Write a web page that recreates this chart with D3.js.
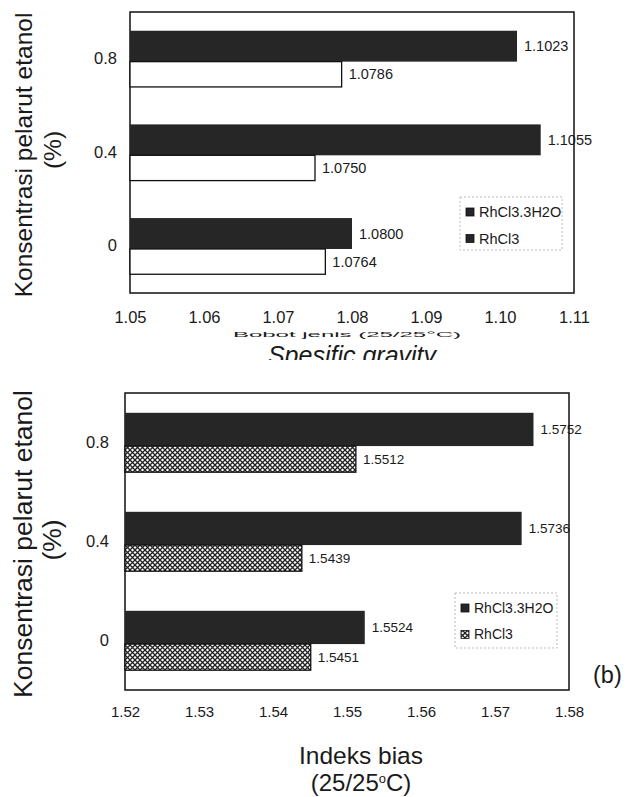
<!DOCTYPE html>
<html lang="id">
<head>
	<meta charset="UTF-8">
	<title>Bobot jenis dan indeks bias</title>
	<script src="https://d3js.org/d3.v7.min.js"></script>
	<style>
		body { margin: 0; background: #fff; }
		text { font-family: "Liberation Sans", Arial, sans-serif; fill: #1a1a1a; }
	</style>
</head>
<body>
<script>
	// ---- data ----
	var categories = ['0.8', '0.4', '0'];
	var seriesNames = ['RhCl3.3H2O', 'RhCl3'];

	// (a) bobot jenis / spesific gravity
	var sgHydrate = [1.1023, 1.1055, 1.0800];
	var sgAnhydrous = [1.0786, 1.0750, 1.0764];
	var sgTicks = [1.05, 1.06, 1.07, 1.08, 1.09, 1.10, 1.11];

	// (b) indeks bias
	var riHydrate = [1.5752, 1.5736, 1.5524];
	var riAnhydrous = [1.5512, 1.5439, 1.5451];
	var riTicks = [1.52, 1.53, 1.54, 1.55, 1.56, 1.57, 1.58];

	var W = 628, H = 797;
	var dark = '#262626';

	var svg = d3.select('body').append('svg')
		.attr('width', W)
		.attr('height', H);

	var defs = svg.append('defs');

	// crosshatch fill for RhCl3 in panel (b)
	var pat = defs.append('pattern')
		.attr('id', 'hatch')
		.attr('patternUnits', 'userSpaceOnUse')
		.attr('width', 5)
		.attr('height', 5);
	pat.append('rect').attr('width', 5).attr('height', 5).attr('fill', '#fff');
	pat.append('path')
		.attr('d', 'M0,0L5,5M5,0L0,5')
		.attr('stroke', '#222')
		.attr('stroke-width', 1.3);

	// the scan cuts the bottom of the (a) axis title
	defs.append('clipPath').attr('id', 'cut2')
		.append('rect').attr('x', 0).attr('y', 342).attr('width', W).attr('height', 18);

	function panel(opt) {
		var x = d3.scaleLinear()
			.domain([opt.ticks[0], opt.ticks[opt.ticks.length - 1]])
			.range([opt.left, opt.right]);
		var y = d3.scaleBand()
			.domain(categories)
			.range([opt.top, opt.bottom])
			.paddingInner(0.4)
			.paddingOuter(0.2);
		var half = y.bandwidth() * opt.split;

		var g = svg.append('g');

		// frame
		g.append('rect')
			.attr('x', opt.left)
			.attr('y', opt.top)
			.attr('width', opt.right - opt.left)
			.attr('height', opt.bottom - opt.top)
			.attr('fill', 'none')
			.attr('stroke', '#111')
			.attr('stroke-width', 1.5);

		var rows = categories.map(function (c, i) {
			return {cat: c, a: opt.hydrate[i], b: opt.anhydrous[i]};
		});

		// dark bars (hydrate)
		g.selectAll('.barA').data(rows).enter().append('rect')
			.attr('class', 'barA')
			.attr('x', x(opt.ticks[0]))
			.attr('y', function (d) { return y(d.cat); })
			.attr('width', function (d) { return x(d.a) - x(opt.ticks[0]); })
			.attr('height', half)
			.attr('fill', dark);

		// lower bars (anhydrous)
		g.selectAll('.barB').data(rows).enter().append('rect')
			.attr('class', 'barB')
			.attr('x', x(opt.ticks[0]))
			.attr('y', function (d) { return y(d.cat) + half; })
			.attr('width', function (d) { return x(d.b) - x(opt.ticks[0]); })
			.attr('height', y.bandwidth() - half)
			.attr('fill', opt.fillB)
			.attr('stroke', '#111')
			.attr('stroke-width', 1.3);

		// value labels
		g.selectAll('.lblA').data(rows).enter().append('text')
			.attr('x', function (d) { return x(d.a) + 7; })
			.attr('y', function (d) { return y(d.cat) + half / 2; })
			.attr('dy', '0.35em')
			.attr('font-size', opt.valSize)
			.text(function (d) { return d.a.toFixed(4); });
		g.selectAll('.lblB').data(rows).enter().append('text')
			.attr('x', function (d) { return x(d.b) + 7; })
			.attr('y', function (d) { return y(d.cat) + half + (y.bandwidth() - half) / 2; })
			.attr('dy', '0.35em')
			.attr('font-size', opt.valSize)
			.text(function (d) { return d.b.toFixed(4); });

		// x axis
		var xAxis = g.append('g')
			.attr('transform', 'translate(0,' + opt.bottom + ')')
			.call(d3.axisBottom(x).tickValues(opt.ticks).tickSize(0).tickPadding(opt.xPad).tickFormat(d3.format('.2f')));
		xAxis.select('.domain').remove();
		xAxis.selectAll('text').attr('font-size', opt.tickSize).attr('fill', '#1a1a1a');

		// y axis
		var yAxis = g.append('g')
			.attr('transform', 'translate(' + opt.left + ',0)')
			.call(d3.axisLeft(y).tickSize(0).tickPadding(opt.yPad));
		yAxis.select('.domain').remove();
		yAxis.selectAll('text').attr('font-size', 16.5).attr('fill', '#1a1a1a');

		// y title
		g.append('text')
			.attr('transform', 'translate(23,' + opt.titleY + ') rotate(-90)')
			.attr('text-anchor', 'middle')
			.attr('dy', '0.35em')
			.attr('font-size', opt.titleSize)
			.text('Konsentrasi pelarut etanol');
		g.append('text')
			.attr('transform', 'translate(52,' + opt.pctY + ') rotate(-90)')
			.attr('text-anchor', 'middle')
			.attr('dy', '0.35em')
			.attr('font-size', opt.titleSize)
			.text('(%)');

		// legend
		var lg = g.append('g').attr('transform', 'translate(' + opt.legend[0] + ',' + opt.legend[1] + ')');
		lg.append('rect')
			.attr('width', opt.legend[2]).attr('height', opt.legend[3])
			.attr('fill', '#fff')
			.attr('stroke', '#bbb')
			.attr('stroke-dasharray', '2,2');
		seriesNames.forEach(function (s, i) {
			lg.append('rect')
				.attr('x', 6).attr('y', 11 + i * 26.5)
				.attr('width', 8).attr('height', 8)
				.attr('fill', i === 0 ? dark : opt.legendB)
				.attr('stroke', '#111').attr('stroke-width', 0.8);
			lg.append('text')
				.attr('x', 19).attr('y', 15 + i * 26.5)
				.attr('dy', '0.35em')
				.attr('font-size', opt.legSize)
				.text(s);
		});
	}

	// (a)
	panel({
		hydrate: sgHydrate, anhydrous: sgAnhydrous, ticks: sgTicks,
		left: 130, right: 574, top: 12, bottom: 293,
		split: 0.55, fillB: '#fff', legendB: dark,
		xPad: 18, yPad: 13, tickSize: 16.5, valSize: 14.5, legSize: 14.5,
		titleSize: 24.5, titleY: 155, pctY: 150,
		legend: [460, 197, 102, 53]
	});

	// (a) axis title: first line survives only as a thin squashed strip in the scan
	svg.append('text')
		.attr('transform', 'translate(347,337) scale(1,0.3)')
		.attr('text-anchor', 'middle')
		.attr('font-size', 24)
		.text('Bobot jenis (25/25°C)');
	svg.append('text')
		.attr('clip-path', 'url(#cut2)')
		.attr('x', 352).attr('y', 364)
		.attr('text-anchor', 'middle')
		.attr('font-size', 25)
		.attr('font-style', 'italic')
		.text('Spesific gravity');

	// (b)
	panel({
		hydrate: riHydrate, anhydrous: riAnhydrous, ticks: riTicks,
		left: 125, right: 569, top: 393, bottom: 690,
		split: 0.56, fillB: 'url(#hatch)', legendB: 'url(#hatch)',
		xPad: 16, yPad: 16, tickSize: 15, valSize: 13.5, legSize: 14,
		titleSize: 26.5, titleY: 544, pctY: 540,
		legend: [455, 593, 102, 55]
	});

	svg.append('text')
		.attr('x', 593).attr('y', 683)
		.attr('font-size', 23.5)
		.text('(b)');

	svg.append('text')
		.attr('x', 361).attr('y', 764)
		.attr('text-anchor', 'middle')
		.attr('font-size', 24.5)
		.text('Indeks bias');
	var t2 = svg.append('text')
		.attr('x', 361).attr('y', 791)
		.attr('text-anchor', 'middle')
		.attr('font-size', 24);
	t2.append('tspan').text('(25/25');
	t2.append('tspan').attr('font-size', 13).attr('dy', -8).text('o');
	t2.append('tspan').attr('dy', 8).text('C)');
</script>
</body>
</html>
